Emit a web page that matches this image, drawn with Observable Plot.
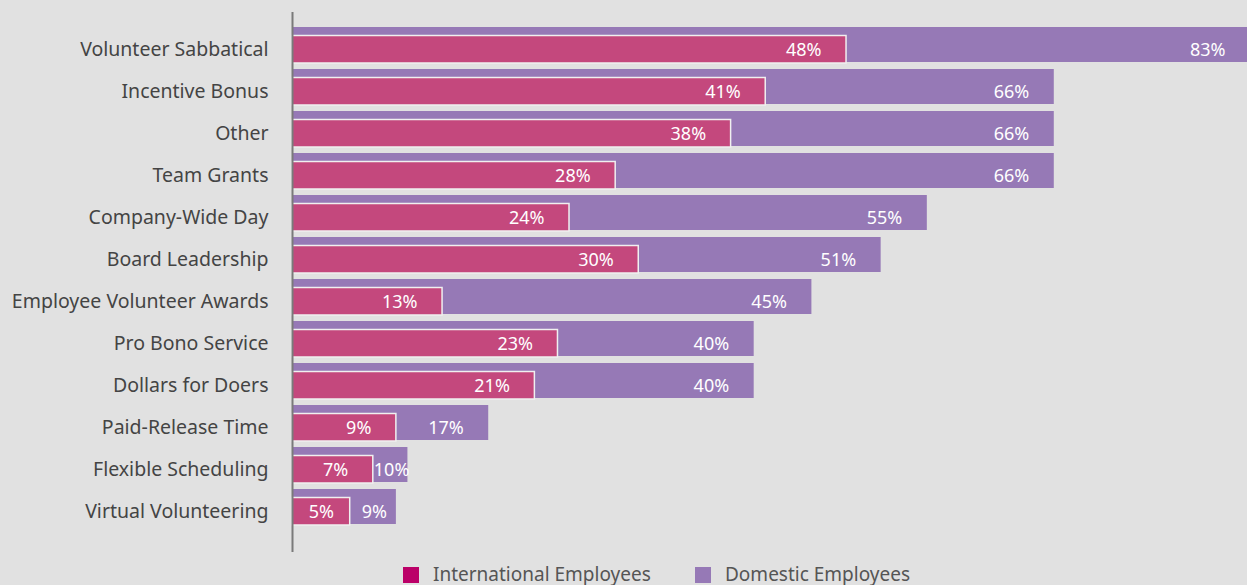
<!DOCTYPE html>
<html><head><meta charset="utf-8">
<script src="https://cdn.jsdelivr.net/npm/d3@7"></script>
<script src="https://cdn.jsdelivr.net/npm/@observablehq/plot@0.6"></script>
<style>
html,body{margin:0;padding:0;background:#e1e1e1;font-family:"Noto Sans",sans-serif;overflow:hidden;}
#chart svg{display:block;}
#legend{position:relative;width:1247px;height:29px;}
.sw{position:absolute;top:11px;width:16px;height:16px;}
.lt{position:absolute;top:4px;font-size:19px;color:#555;line-height:28px;white-space:nowrap;}
</style></head><body>
<div id="chart"></div>
<div id="legend"></div>
<script>
const categories = ["Volunteer Sabbatical","Incentive Bonus","Other","Team Grants","Company-Wide Day","Board Leadership","Employee Volunteer Awards","Pro Bono Service","Dollars for Doers","Paid-Release Time","Flexible Scheduling","Virtual Volunteering"];
const international = [48,41,38,28,24,30,13,23,21,9,7,5];
const domestic = [83,66,66,66,55,51,45,40,40,17,10,9];
const seriesNames = ["International Employees","Domestic Employees"];
const barColors = ["#c4487d","#9679b6"];
const legendColors = ["#bb0068","#9679b6"];

const rows = categories.map((c,i)=>({category:c, intl:international[i], dom:domestic[i]}));
const fmt = v => v + "%";
const txt = {y:"category", dy:5, fill:"#fff", fontSize:18, fontFamily:"Noto Sans"};

const chart = Plot.plot({
  width:1247, height:556, marginLeft:292, marginRight:0, marginTop:12, marginBottom:4,
  style:{background:"transparent", fontFamily:"Noto Sans", fontSize:"19.5px", color:"#444", overflow:"hidden"},
  x:{domain:[0,83], range:[292,1250], axis:null},
  y:{domain:categories, range:[23.5,528], paddingInner:0.16, paddingOuter:0.08, axis:null},
  marks:[
    Plot.barX(rows,{y:"category", x:"dom", fill:barColors[1]}),
    Plot.barX(rows,{y:"category", x:"intl", fill:barColors[0], stroke:"#f0f0f0", strokeWidth:1.5, insetTop:8.5, insetBottom:-1}),
    Plot.ruleX([0],{stroke:"#7a7a7a", strokeWidth:2}),
    Plot.axisY({tickSize:0, tickPadding:24, dy:5, fontSize:19.5, label:null}),
    Plot.text(rows.filter(d=>d.intl>5),{...txt, x:"intl", text:d=>fmt(d.intl), textAnchor:"end", dx:-25}),
    Plot.text(rows.filter(d=>d.intl<=5),{...txt, x:d=>d.intl/2, text:d=>fmt(d.intl), textAnchor:"middle"}),
    Plot.text(rows.filter(d=>d.dom-d.intl>5),{...txt, x:"dom", text:d=>fmt(d.dom), textAnchor:"end", dx:-25}),
    Plot.text(rows.filter(d=>d.dom-d.intl<=5),{...txt, x:d=>(d.dom+d.intl)/2, text:d=>fmt(d.dom), textAnchor:"middle", dx:1})
  ]
});
document.getElementById("chart").appendChild(chart);

const legend = document.getElementById("legend");
const lx = [[403,433],[695,725]];
seriesNames.forEach((n,i)=>{
  const s = document.createElement("div"); s.className="sw"; s.style.left=lx[i][0]+"px"; s.style.background=legendColors[i];
  const t = document.createElement("div"); t.className="lt"; t.style.left=lx[i][1]+"px"; t.textContent=n;
  legend.appendChild(s); legend.appendChild(t);
});
</script>
</body></html>
